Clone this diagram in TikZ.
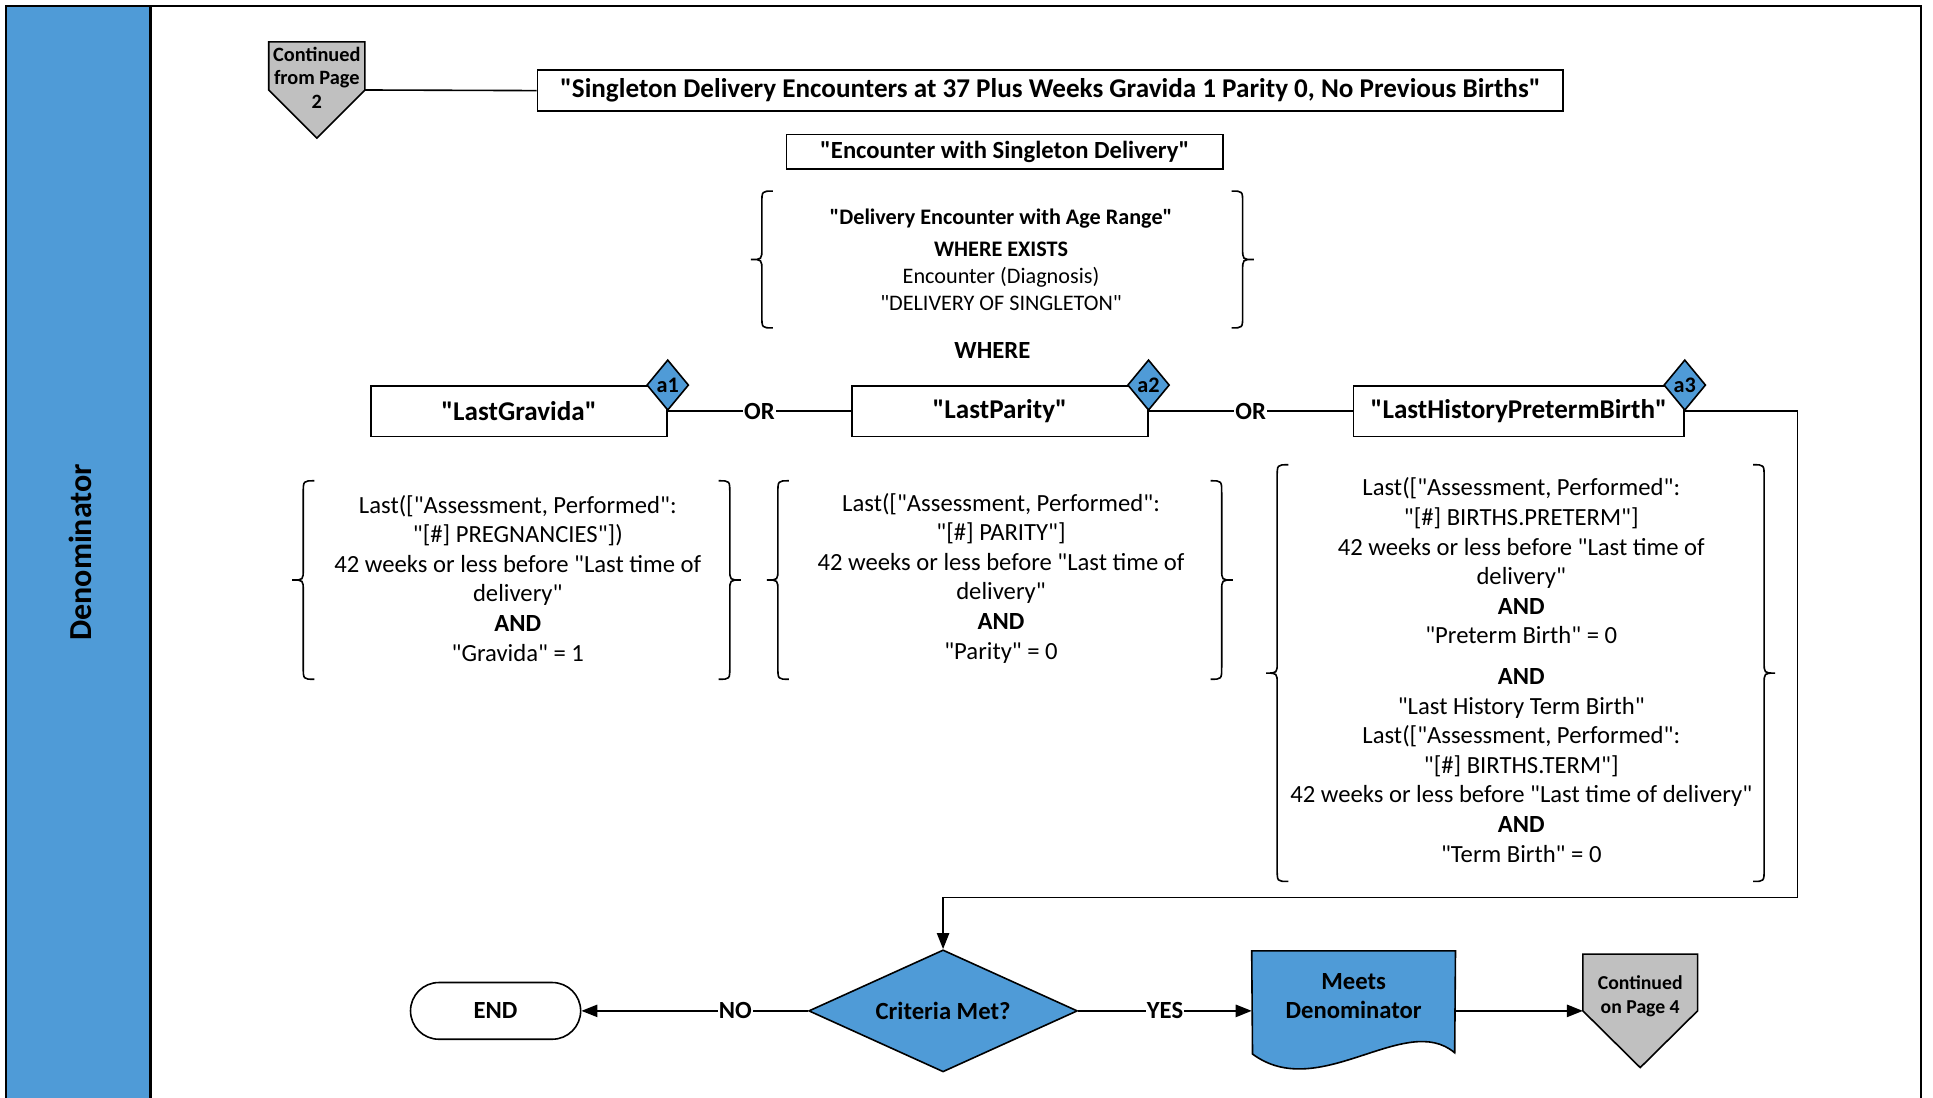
\documentclass[tikz,border=0pt]{standalone}
\usepackage{fontspec}
\setmainfont{Carlito}[Ligatures=TeXOff]
\usetikzlibrary{arrows.meta,shapes.geometric}
\definecolor{laneblue}{RGB}{79,155,215}
\definecolor{congray}{RGB}{192,192,192}
\newcommand\fsz[2]{\fontsize{#1}{#2}\selectfont}
% left brace: vertical x, top y, bottom y
\newcommand\BrL[3]{%
 \draw[brc] ({#1+9},#2) .. controls (#1,#2) .. (#1,{#2+10}) -- (#1,{(#2+#3)/2-9})
   .. controls (#1,{(#2+#3)/2}) .. ({#1-9},{(#2+#3)/2})
   .. controls (#1,{(#2+#3)/2}) .. (#1,{(#2+#3)/2+9}) -- (#1,{#3-10})
   .. controls (#1,#3) .. ({#1+9},#3);}
\newcommand\BrR[3]{%
 \draw[brc] ({#1-9},#2) .. controls (#1,#2) .. (#1,{#2+10}) -- (#1,{(#2+#3)/2-9})
   .. controls (#1,{(#2+#3)/2}) .. ({#1+9},{(#2+#3)/2})
   .. controls (#1,{(#2+#3)/2}) .. (#1,{(#2+#3)/2+9}) -- (#1,{#3-10})
   .. controls (#1,#3) .. ({#1-9},#3);}
\begin{document}
\begin{tikzpicture}[x=1pt,y=-1pt,line width=1.3pt,
 box/.style={draw,line width=1.3pt,inner sep=0pt,font=\bfseries\fsz{22}{26}},
 tag/.style={diamond,draw,fill=laneblue,inner sep=0pt,minimum width=34pt,minimum height=41pt,font=\bfseries\fsz{18}{20}},
 lbl/.style={fill=white,inner sep=1pt,font=\bfseries\fsz{20}{24}},
 arr/.style={-{Triangle[length=13pt,width=10pt]}},
 body/.style={align=center,inner sep=0pt,font=\fsz{20}{24}},
 brc/.style={line width=1.3pt},
 offpage/.style={draw,fill=congray,line width=1.3pt},
 ctxt/.style={align=center,inner sep=0pt,font=\bfseries\fsz{16.5}{19}},
]
\useasboundingbox (0,0) rectangle (1568,890);
% frame and lane
\draw[fill=laneblue,line width=1.8pt] (5,5) rectangle (122,900);
\draw[line width=1.8pt] (5,5) rectangle (1558,900);
\node[rotate=90,font=\bfseries\fsz{26}{30}] (lane) at (65,448) {Denominator};

% continued from page 2
\draw[offpage] (218,34) -- (296,34) -- (296,73) -- (257,112) -- (218,73) -- cycle;
\node[ctxt] (cont2) at (257,63) {Continued\\from Page\\2};
\coordinate (cont2r) at (296,73);

% title boxes
\node[box,minimum width=832pt,minimum height=33pt] (title) at (852,73.5)
 {"Singleton Delivery Encounters at 37 Plus Weeks Gravida 1 Parity 0, No Previous Births"};
\node[box,minimum width=354pt,minimum height=28pt,font=\bfseries\fsz{20}{24}] (enc) at (815,123)
 {"Encounter with Singleton Delivery"};
\draw (cont2r) -- (title.west);

% delivery encounter group
\BrL{618}{155}{266}
\BrR{1008}{155}{266}
\node[align=center,inner sep=0pt,font=\fsz{18}{22}] (deliv) at (812,211)
 {\textbf{"Delivery Encounter with Age Range"}\\[4pt]
  \textbf{WHERE EXISTS}\\
  Encounter (Diagnosis)\\
  "DELIVERY OF SINGLETON"};
\node[font=\bfseries\fsz{20}{24}] (where) at (805,284) {WHERE};

% criteria boxes
\node[box,minimum width=240pt,minimum height=41pt] (grav) at (421,333.5) {"LastGravida"};
\node[box,minimum width=240pt,minimum height=41pt] (par) at (811,333.5) {"LastParity"};
\node[box,minimum width=268pt,minimum height=41pt] (hist) at (1232,333.5) {"LastHistoryPretermBirth"};
\node[tag] (a1) at (grav.north east) {a1};
\node[tag] (a2) at (par.north east) {a2};
\node[tag] (a3) at (hist.north east) {a3};
\draw (grav.east) -- node[lbl] {OR} (par.west);
\draw (par.east) -- node[lbl] {OR} (hist.west);

% detail groups
\BrL{246}{390}{551}
\BrR{592}{390}{551}
\node[body] (gravd) at (420,469)
 {Last(["Assessment, Performed":\\
  "[\#] PREGNANCIES"])\\
  42 weeks or less before "Last time of\\
  delivery"\\
  \textbf{AND}\\
  "Gravida" = 1};
\BrL{631}{390}{551}
\BrR{991}{390}{551}
\node[body] (pard) at (812,469)
 {Last(["Assessment, Performed":\\
  "[\#] PARITY"]\\
  42 weeks or less before "Last time of\\
  delivery"\\
  \textbf{AND}\\
  "Parity" = 0};
\BrL{1036}{377}{715}
\BrR{1431}{377}{715}
\node[body] (histd) at (1234,543.5)
 {Last(["Assessment, Performed":\\
  "[\#] BIRTHS.PRETERM"]\\
  42 weeks or less before "Last time of\\
  delivery"\\
  \textbf{AND}\\
  "Preterm Birth" = 0\\[9pt]
  \textbf{AND}\\
  "Last History Term Birth"\\
  Last(["Assessment, Performed":\\
  "[\#] BIRTHS.TERM"]\\
  42 weeks or less before "Last time of delivery"\\
  \textbf{AND}\\
  "Term Birth" = 0};

% bottom flow
\node[diamond,draw,fill=laneblue,inner sep=0pt,minimum width=218pt,minimum height=99pt] (crit) at (765,820) {};
\node[font=\bfseries\fsz{20}{24}] (critt) at (crit.center) {Criteria Met?};
\node[draw,rounded corners=23pt,minimum width=138pt,minimum height=46pt,
  font=\bfseries\fsz{20}{24}] (end) at (402,820) {END};
\coordinate (bend) at (1458,728);
\draw[arr] (hist.east) -| (bend) -| (crit.north);
\draw[arr] (crit.west) -- node[lbl,pos=0.32] {NO} (end.east);

\node[minimum width=164pt,minimum height=96pt,inner sep=0pt] (meets) at (1098,820) {};
\draw[fill=laneblue] (meets.north west) -- (meets.north east) -- (1180,854)
  .. controls (1140,820) and (1070,895) .. (1016,855) -- cycle;
\node[align=center,inner sep=0pt,font=\bfseries\fsz{20}{23}] (meetst) at (1098,808) {Meets\\Denominator};
\draw[arr] (crit.east) -- node[lbl] {YES} (meets.west);

\draw[offpage] (1284,774) -- (1377,774) -- (1377,820) -- (1330.5,866) -- (1284,820) -- cycle;
\node[ctxt,font=\bfseries\fsz{16}{20}] (cont4) at (1330.5,808) {Continued\\on Page 4};
\coordinate (cont4l) at (1284,820);
\draw[arr] (meets.east) -- (cont4l);
\end{tikzpicture}
\end{document}
